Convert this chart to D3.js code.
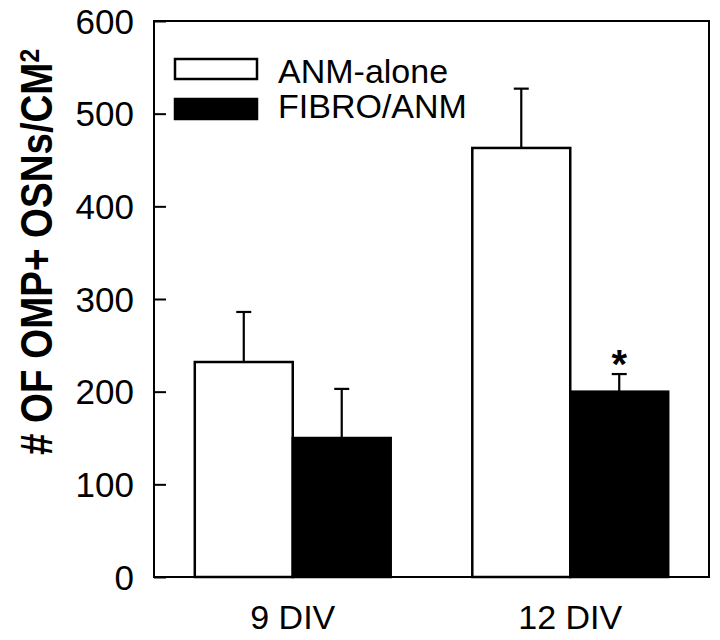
<!DOCTYPE html>
<html>
<head>
<meta charset="utf-8">
<script src="https://cdn.jsdelivr.net/npm/d3@7"></script>
<style>
  body { margin: 0; background: #fff; }
  text { font-family: Arial, "Liberation Sans", sans-serif; fill: #000; }
</style>
</head>
<body>
<div id="chart"></div>
<script>
    // Data
    const categories = ["9 DIV", "12 DIV"];
    const seriesNames = ["ANM-alone", "FIBRO/ANM"];
    const anmAlone = [232, 463];
    const anmAloneErr = [54, 64];
    const fibroAnm = [150, 200];
    const fibroAnmErr = [53, 19];
    const yTicks = [0, 100, 200, 300, 400, 500, 600];
    const significant = [false, true]; // asterisk on FIBRO/ANM

    const width = 720;
    const height = 640;
    const margin = { top: 21, right: 11, bottom: 63, left: 154 };

    const svg = d3.select("#chart")
        .append("svg")
        .attr("width", width)
        .attr("height", height);

    const x = d3.scaleBand()
        .domain(categories)
        .range([margin.left, width - margin.right])
        .paddingInner(0.294)
        .paddingOuter(0.147);

    const xInner = d3.scaleBand()
        .domain(seriesNames)
        .range([0, x.bandwidth()]);

    const y = d3.scaleLinear()
        .domain([0, 600])
        .range([height - margin.bottom, margin.top]);

    // build rows for bars
    const rows = [];
    categories.forEach((c, i) => {
        rows.push({ cat: c, series: seriesNames[0], value: anmAlone[i], err: anmAloneErr[i], star: false });
        rows.push({ cat: c, series: seriesNames[1], value: fibroAnm[i], err: fibroAnmErr[i], star: significant[i] });
    });
    const fill = d3.scaleOrdinal().domain(seriesNames).range(["#fff", "#000"]);

    // error bars (upper only), drawn under the bars
    const eb = svg.append("g").attr("stroke", "#000").attr("stroke-width", 2.2);
    rows.forEach(d => {
        const cx = x(d.cat) + xInner(d.series) + xInner.bandwidth() / 2;
        eb.append("line")
            .attr("x1", cx).attr("x2", cx)
            .attr("y1", y(d.value)).attr("y2", y(d.value + d.err));
        eb.append("line")
            .attr("x1", cx - 7.5).attr("x2", cx + 7.5)
            .attr("y1", y(d.value + d.err)).attr("y2", y(d.value + d.err));
    });

    // bars
    svg.append("g")
        .selectAll("rect")
        .data(rows)
        .enter()
        .append("rect")
        .attr("x", d => x(d.cat) + xInner(d.series))
        .attr("y", d => y(d.value))
        .attr("width", xInner.bandwidth())
        .attr("height", d => y(0) - y(d.value))
        .attr("fill", d => fill(d.series))
        .attr("stroke", "#000")
        .attr("stroke-width", 2.5);

    // asterisk
    svg.append("g")
        .selectAll("text")
        .data(rows.filter(d => d.star))
        .enter()
        .append("text")
        .attr("x", d => x(d.cat) + xInner(d.series) + xInner.bandwidth() / 2)
        .attr("y", d => y(d.value + d.err) + 4)
        .attr("text-anchor", "middle")
        .style("font-size", "40px")
        .style("font-weight", "bold")
        .text("*");

    // frame
    svg.append("rect")
        .attr("x", margin.left)
        .attr("y", margin.top)
        .attr("width", width - margin.left - margin.right)
        .attr("height", height - margin.top - margin.bottom)
        .attr("fill", "none")
        .attr("stroke", "#000")
        .attr("stroke-width", 2);

    // y axis with inward ticks
    const yAxis = svg.append("g")
        .attr("transform", `translate(${margin.left},0)`)
        .call(d3.axisRight(y).tickValues(yTicks).tickSize(12).tickFormat(""));
    yAxis.select(".domain").remove();
    yAxis.selectAll("line").attr("stroke-width", 2);

    svg.append("g")
        .selectAll("text")
        .data(yTicks)
        .enter()
        .append("text")
        .attr("x", margin.left - 20)
        .attr("y", d => y(d))
        .attr("dy", "0.36em")
        .attr("text-anchor", "end")
        .style("font-size", "35px")
        .text(d => d);

    // x labels
    svg.append("g")
        .selectAll("text")
        .data(categories)
        .enter()
        .append("text")
        .attr("x", d => x(d) + x.bandwidth() / 2)
        .attr("y", 629)
        .attr("text-anchor", "middle")
        .style("font-size", "34px")
        .text(d => d);

    // y title (figure font is a bit condensed along the text)
    const title = svg.append("text")
        .attr("transform", "translate(52,455) rotate(-90) scale(0.875,1)")
        .attr("text-anchor", "start")
        .style("font-size", "44px")
        .style("font-weight", "bold");
    title.append("tspan").text("# OF OMP+ OSNs/CM");
    title.append("tspan").attr("dy", "-0.45em").style("font-size", "28px").text("2");

    // legend
    const legend = svg.append("g");
    seriesNames.forEach((s, i) => {
        legend.append("rect")
            .attr("x", 175).attr("y", 59 + i * 40)
            .attr("width", 82).attr("height", 20)
            .attr("fill", fill(s))
            .attr("stroke", "#000")
            .attr("stroke-width", 2.5);
        legend.append("text")
            .attr("x", 278).attr("y", 83 + i * 35)
            .style("font-size", "34px")
            .text(s);
    });
</script>
</body>
</html>
